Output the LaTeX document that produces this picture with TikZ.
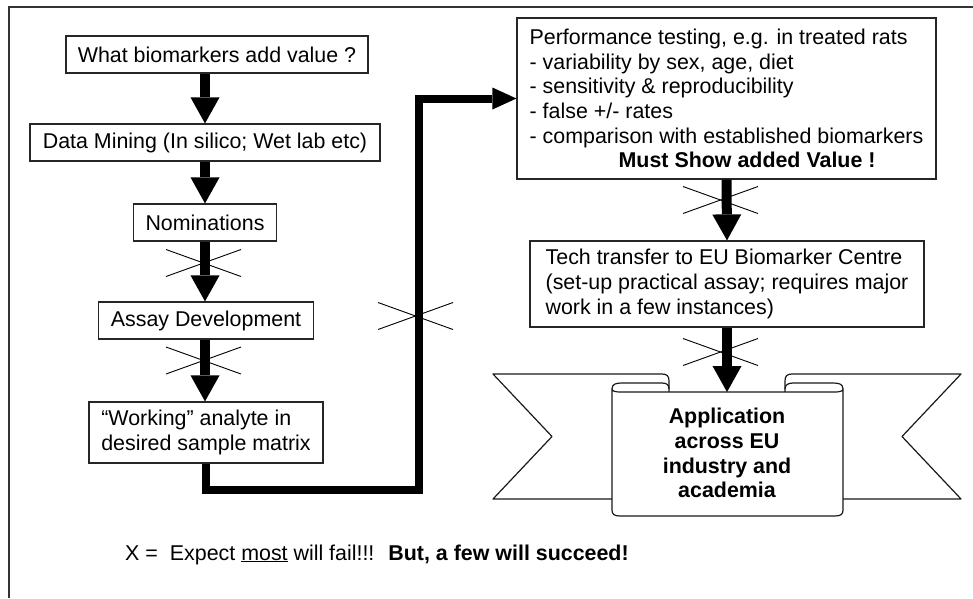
\documentclass[tikz,border=0pt]{standalone}
\usepackage{fontspec}
\setmainfont{Liberation Sans}
\usetikzlibrary{arrows.meta}
\newcommand\dgfont{\fontsize{21.4}{24.7}\selectfont}
\begin{document}
\begin{tikzpicture}[x=1pt,y=-1pt,
  box/.style={draw=black!85, line width=1.2pt, fill=white, inner sep=0pt,
    minimum height=37pt, align=center, font=\dgfont},
  lbox/.style={box, align=left},
  fatarrow/.style={line width=10pt, -{Triangle[length=26pt,width=29pt,line width=0pt]}},
  elbow/.style={line width=8pt, line join=miter, -{Triangle[length=24pt,width=22pt,line width=0pt]}},
  xline/.style={line width=0.9pt, black},
  rib/.style={draw=black!90, line width=1.2pt, line join=round},
  frame/.style={draw=black!80, line width=1.8pt}
]
\useasboundingbox (0,0) rectangle (973,598);
% frame (only top and left edges are within the picture)
\draw[frame] (973,7.3) -- (9.3,7.3) -- (9.3,598);

% left column
\node[box, minimum width=302pt] (b1) at (217,54.5) {What biomarkers add value ?};
\node[box, minimum width=350pt] (b2) at (205,142.5) {Data Mining (In silico; Wet lab etc)};
\node[box, minimum width=143pt] (b3) at (205,222.5) {Nominations};
\node[box, minimum width=215pt] (b4) at (206,320.5) {Assay Development};
\node[lbox, minimum width=234pt, minimum height=61pt] (b5) at (206,432.5)
  {“Working” analyte in\\desired sample matrix};

% right column
\node[lbox, minimum width=419pt, minimum height=161pt] (b6) at (726.5,98.5)
  {Performance testing, e.g. in treated rats\\
   - variability by sex, age, diet\\
   - sensitivity \& reproducibility\\
   - false +/- rates\\
   - comparison with established biomarkers\\
   \hspace*{89pt}\textbf{Must Show added Value !}};
\node[lbox, minimum width=394pt, minimum height=86pt] (b7) at (727,284)
  {Tech transfer to EU Biomarker Centre\\
   (set-up practical assay; requires major\\
   work in a few instances)};

% ribbon
\draw[rib] (669,392) -- (669,381) .. controls (669,376) and (667,374) .. (662,374)
  -- (493,374) -- (552,436.5) -- (493,499) -- (612,499);
\draw[rib] (785,392) -- (785,381) .. controls (785,376) and (787,374) .. (792,374)
  -- (961,374) -- (902,436.5) -- (961,499) -- (843,499);
\draw[rib, fill=white] (612,389) -- (612,510) .. controls (612,514) and (614,516) .. (620,516)
  -- (835,516) .. controls (841,516) and (843,514) .. (843,510) -- (843,389)
  .. controls (843,391) and (840,392) .. (835,392) -- (620,392)
  .. controls (615,392) and (612,391) .. (612,389) -- cycle;
\draw[rib] (612,389) .. controls (612,384) and (616,383) .. (622,383) -- (662,383)
  .. controls (667,383) and (669,385) .. (669,389);
\draw[rib] (843,389) .. controls (843,384) and (839,383) .. (833,383) -- (793,383)
  .. controls (788,383) and (785,385) .. (785,389);
\coordinate (ribtop) at (727,392);
\node[font=\dgfont\bfseries, align=center, inner sep=0pt] (rib) at (727,453)
  {Application\\across EU\\industry and\\academia};

% arrows
\draw[fatarrow] (b1.south -| b2.north) -- (b2.north);
\draw[fatarrow] (b2.south) -- (b3.north);
\draw[fatarrow] (b3.south) -- (b3.south |- b4.north);
\draw[fatarrow] (b4.south -| b3.south) -- (b3.south |- b5.north);
\coordinate (elb1) at (419,490);
\draw[elbow] (b5.south) |- (elb1) |- (b6.west);
\draw[fatarrow] (b6.south) -- (b7.north);
\draw[fatarrow] (b7.south) -- (ribtop);

% failure crosses
\coordinate (c1) at (203.5,263);
\coordinate (c2) at (203.5,360.5);
\coordinate (c3) at (415.5,316);
\coordinate (c4) at (720.5,200);
\coordinate (c5) at (720.5,352);
\foreach \c in {c1,c2,c3,c4,c5}{
  \draw[xline] ([shift={(-37.5,-13.5)}]\c) -- ([shift={(37.5,13.5)}]\c);
  \draw[xline] ([shift={(-37.5,13.5)}]\c) -- ([shift={(37.5,-13.5)}]\c);
}

% note
\node[anchor=base west, inner sep=0pt, font=\dgfont] (note) at (125,560)
  {X =\hspace{12pt}Expect \underline{most} will fail!!!\hspace{14pt}\textbf{But, a few will succeed!}};
\end{tikzpicture}
\end{document}
